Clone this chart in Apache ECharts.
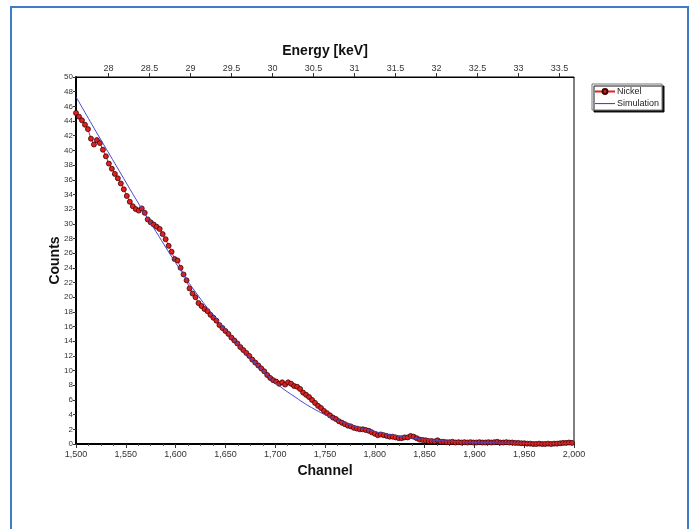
<!DOCTYPE html>
<html>
<head>
    <meta charset="UTF-8">
    <title>Nickel spectrum</title>
    <script src="https://cdn.jsdelivr.net/npm/echarts@6/dist/echarts.min.js"></script>
    <style>
        html, body { margin: 0; padding: 0; background: #fff; }
        #main { width: 697px; height: 529px; }
    </style>
</head>
<body>
<div id="main"></div>
<script type="text/javascript">

    // 测量数据: Nickel, 每3道取一个点, 从1500道开始
    var nickelStart = 1500;
    var nickelStep = 3;
    var nickelCounts = [
        45.1, 44.6, 44.1, 43.5, 42.9, 41.6, 40.8, 41.4, 41.0, 40.1,
        39.2, 38.2, 37.5, 36.8, 36.2, 35.5, 34.7, 33.8, 33.0, 32.4,
        32.0, 31.8, 32.1, 31.5, 30.6, 30.2, 29.9, 29.6, 29.3, 28.6,
        27.9, 27.0, 26.2, 25.2, 25.0, 24.0, 23.1, 22.3, 21.2, 20.5,
        20.0, 19.2, 18.8, 18.4, 18.1, 17.6, 17.2, 16.8, 16.2, 15.8,
        15.4, 15.0, 14.5, 14.1, 13.7, 13.2, 12.8, 12.4, 12.0, 11.5,
        11.1, 10.7, 10.3, 9.9, 9.4, 9.0, 8.7, 8.5, 8.2, 8.4,
        8.1, 8.4, 8.2, 7.9, 7.8, 7.5, 7.0, 6.7, 6.4, 6.0,
        5.6, 5.2, 4.9, 4.5, 4.2, 3.9, 3.6, 3.4, 3.1, 2.9,
        2.7, 2.5, 2.4, 2.2, 2.1, 2.0, 2.0, 1.9, 1.8, 1.6,
        1.4, 1.2, 1.3, 1.2, 1.1, 1.0, 1.0, 0.9, 0.8, 0.8,
        0.9, 0.9, 1.1, 1.0, 0.8, 0.6, 0.55, 0.5, 0.4, 0.4,
        0.35, 0.5, 0.3, 0.3, 0.25, 0.25, 0.3, 0.2, 0.25, 0.2,
        0.25, 0.2, 0.25, 0.2, 0.2, 0.25, 0.2, 0.2, 0.25, 0.2,
        0.25, 0.3, 0.2, 0.2, 0.25, 0.2, 0.2, 0.15, 0.15, 0.1,
        0.1, 0.05, 0.05, 0.0, 0.0, 0.05, 0.0, 0.0, 0.05, 0.0,
        0.05, 0.05, 0.1, 0.15, 0.15, 0.2, 0.15
    ];

    // 模拟曲线
    var simChannels = [1500, 1520, 1540, 1560, 1580, 1600, 1620, 1640, 1660, 1680, 1700, 1720, 1740,
        1760, 1780, 1800, 1820, 1840, 1860, 1880, 1900, 1920, 1940, 1960, 1980, 2000];
    var simCounts = [47.3, 42.6, 38.0, 33.4, 29.0, 24.7, 20.7, 17.2, 14.0, 11.0, 8.4, 6.4, 4.7,
        3.4, 2.4, 1.7, 1.15, 0.78, 0.52, 0.35, 0.24, 0.16, 0.11, 0.07, 0.05, 0.03];

    // 上方能量轴刻度
    var energyTicks = [28, 28.5, 29, 29.5, 30, 30.5, 31, 31.5, 32, 32.5, 33, 33.5];
    var energyMin = 27.604;
    var energyMax = 33.677;

    var nickelData = [];
    for (var i = 0; i < nickelCounts.length; i++) {
        nickelData.push([nickelStart + i * nickelStep, nickelCounts[i]]);
    }
    var simData = [];
    for (var j = 0; j < simChannels.length; j++) {
        simData.push([simChannels[j], simCounts[j]]);
    }

    var labelFont = "'Liberation Sans Narrow', 'Liberation Sans', Arial, sans-serif";
    var titleFont = "'Liberation Sans', Arial, sans-serif";

    var myChart = echarts.init(document.getElementById('main'));

    var option = {
        animation: false,
        backgroundColor: '#fff',
        graphic: [{
            type: 'rect',
            shape: { x: 11, y: 7, width: 677, height: 540 },
            style: { fill: 'none', stroke: '#3f7cc4', lineWidth: 2 },
            silent: true,
            z: -1
        }],
        grid: {
            left: 76,
            right: 123,
            top: 77,
            bottom: 85,
            containLabel: false,
            outerBoundsMode: 'none',
            show: true,
            borderColor: '#000',
            borderWidth: 1,
            backgroundColor: '#fff'
        },
        legend: {
            orient: 'vertical',
            left: 592,
            top: 84,
            itemWidth: 20,
            itemHeight: 6,
            itemGap: 3,
            padding: [3, 3, 2, 2],
            backgroundColor: '#fff',
            borderColor: '#777',
            borderWidth: 1,
            shadowColor: 'rgba(0,0,0,0.9)',
            shadowBlur: 0,
            shadowOffsetX: 2,
            shadowOffsetY: 2,
            textStyle: { fontFamily: labelFont, fontSize: 9, color: '#222', padding: [0, 0, 0, -3] },
            data: [
                { name: 'Nickel' },
                {
                    name: 'Simulation',
                    icon: 'path://M0,0 L0,0 M0,2.5 L20,2.5 L20,3.6 L0,3.6 Z M20,6 L20,6',
                    itemStyle: { color: '#4848c8' }
                }
            ]
        },
        xAxis: [{
            type: 'value',
            position: 'bottom',
            min: 1500,
            max: 2000,
            interval: 50,
            name: 'Channel',
            nameLocation: 'middle',
            nameGap: 18,
            nameTextStyle: { fontFamily: titleFont, fontSize: 14, fontWeight: 'bold', color: '#111' },
            axisLine: { show: true, onZero: false, lineStyle: { color: '#000', width: 2 } },
            axisTick: { show: true, inside: false, length: 4, lineStyle: { color: '#333' } },
            minorTick: { show: true, splitNumber: 4, length: 2, lineStyle: { color: '#555' } },
            splitLine: { show: false },
            axisLabel: {
                margin: 6,
                fontFamily: labelFont,
                fontSize: 9,
                color: '#333',
                formatter: function (v) { return v.toLocaleString('en-US'); }
            }
        }, {
            type: 'value',
            position: 'top',
            min: energyMin,
            max: energyMax,
            name: 'Energy [keV]',
            nameLocation: 'middle',
            nameGap: 19,
            nameTextStyle: { fontFamily: titleFont, fontSize: 14, fontWeight: 'bold', color: '#111' },
            axisLine: { show: true, onZero: false, lineStyle: { color: '#000', width: 1 } },
            axisTick: { show: true, inside: false, length: 4, customValues: energyTicks, lineStyle: { color: '#333' } },
            splitLine: { show: false },
            axisLabel: {
                margin: 4,
                fontFamily: labelFont,
                fontSize: 9,
                color: '#333',
                customValues: energyTicks
            }
        }],
        yAxis: {
            type: 'value',
            min: 0,
            max: 50,
            interval: 2,
            name: 'Counts',
            nameLocation: 'middle',
            nameGap: 14,
            nameMoveOverlap: false,
            nameRotate: 90,
            nameTextStyle: { fontFamily: titleFont, fontSize: 14, fontWeight: 'bold', color: '#111' },
            axisLine: { show: true, onZero: false, lineStyle: { color: '#000', width: 2 } },
            axisTick: { show: true, inside: false, length: 3, lineStyle: { color: '#333' } },
            splitLine: { show: false },
            axisLabel: { margin: 3, fontFamily: labelFont, fontSize: 8, color: '#333' }
        },
        series: [{
            name: 'Nickel',
            type: 'line',
            xAxisIndex: 0,
            data: nickelData,
            symbol: 'circle',
            symbolSize: 5,
            showAllSymbol: true,
            lineStyle: { color: '#e8201c', width: 1 },
            itemStyle: { color: '#e02020', borderColor: '#3a0505', borderWidth: 0.8 },
            z: 2
        }, {
            name: 'Simulation',
            type: 'line',
            xAxisIndex: 0,
            data: simData,
            smooth: true,
            showSymbol: false,
            symbol: 'none',
            lineStyle: { color: '#4848c8', width: 1 },
            itemStyle: { color: '#4848c8' },
            z: 3
        }]
    };

    myChart.setOption(option);
</script>
</body>
</html>
